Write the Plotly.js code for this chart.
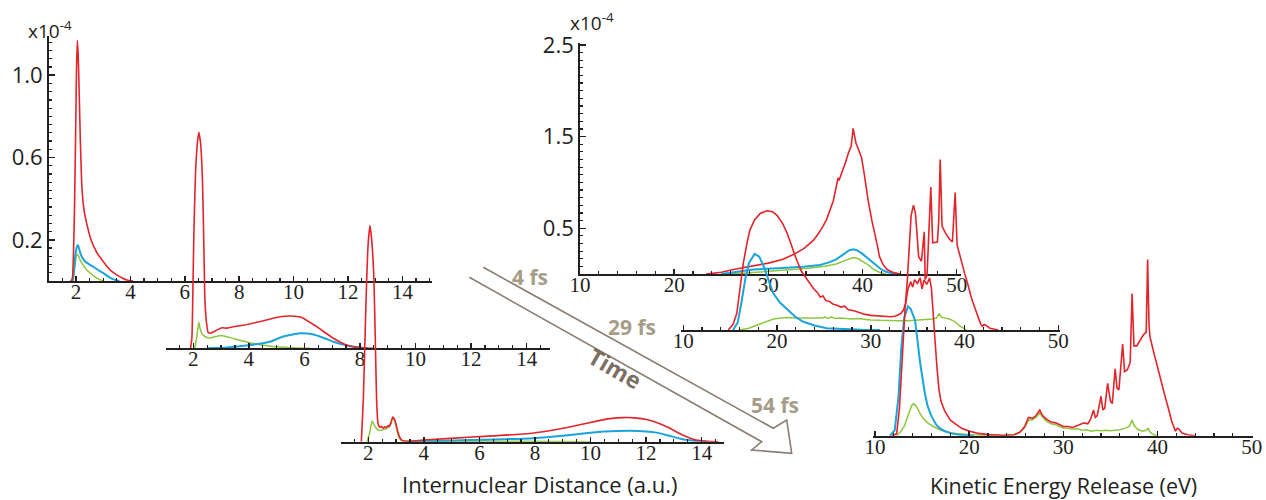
<!DOCTYPE html>
<html>
<head>
<meta charset="utf-8">
<script src="https://cdn.plot.ly/plotly-3.0.1.min.js"></script>
<style>html,body{margin:0;padding:0;background:#fff;}#chart{width:1266px;height:500px;}</style>
</head>
<body>
<div id="chart"></div>
<script>
// ---------------- DATA (values in units of 1e-4) ----------------
// Left group: internuclear distance (a.u.)
const l1Red = [[1.8,0],[1.86,0.01],[1.92,0.2],[1.95,0.39],[1.99,0.75],[2.02,1.04],[2.05,1.17],[2.08,1.1],[2.12,0.9],[2.16,0.68],[2.22,0.45],[2.3,0.34],[2.41,0.27],[2.55,0.2],[2.78,0.135],[3.0,0.095],[3.14,0.07],[3.3,0.048],[3.5,0.03],[3.7,0.015],[3.87,0.005],[4.1,0]];
const l1Blue = [[1.88,0],[1.93,0.06],[1.98,0.13],[2.03,0.165],[2.07,0.175],[2.11,0.16],[2.16,0.135],[2.25,0.11],[2.35,0.094],[2.5,0.08],[2.65,0.068],[2.85,0.05],[3.02,0.037],[3.2,0.02],[3.38,0.008],[3.6,0]];
const l1Green = [[1.9,0],[1.96,0.07],[2.03,0.13],[2.08,0.125],[2.16,0.1],[2.25,0.08],[2.4,0.053],[2.6,0.03],[2.78,0.013],[3.0,0]];

const l2Red = [[1.9,0],[1.95,0.05],[1.98,0.23],[2.02,0.55],[2.08,0.85],[2.15,1.0],[2.2,1.05],[2.26,1.0],[2.33,0.82],[2.38,0.5],[2.42,0.23],[2.48,0.12],[2.54,0.076],[2.65,0.075],[2.8,0.085],[3.03,0.1],[3.2,0.098],[3.44,0.105],[3.8,0.112],[4.4,0.13],[5.0,0.15],[5.48,0.157],[5.9,0.15],[6.44,0.105],[7.04,0.049],[7.52,0.016],[8.0,0.003],[8.5,0]];
const l2Blue = [[2.5,0],[3.2,0.004],[4.04,0.016],[4.76,0.032],[5.24,0.057],[5.84,0.073],[6.3,0.068],[6.7,0.05],[7.04,0.032],[7.4,0.018],[7.75,0.008],[8.3,0]];
const l2Green = [[2.05,0],[2.12,0.05],[2.17,0.1],[2.2,0.126],[2.24,0.1],[2.32,0.07],[2.45,0.055],[2.6,0.05],[2.8,0.057],[3.0,0.062],[3.3,0.053],[3.7,0.038],[4.2,0.022],[4.8,0.01],[5.5,0.003],[6.2,0]];

const l3Red = [[1.75,0],[1.82,0.2],[1.92,0.69],[1.99,0.95],[2.06,1.05],[2.13,0.97],[2.2,0.8],[2.26,0.45],[2.3,0.2],[2.35,0.09],[2.42,0.07],[2.48,0.075],[2.54,0.065],[2.6,0.072],[2.64,0.068],[2.72,0.078],[2.76,0.074],[2.82,0.095],[2.88,0.12],[2.96,0.104],[3.08,0.04],[3.2,0.008],[3.5,0.002],[3.98,0.008],[5.9,0.024],[7.82,0.04],[9.02,0.065],[9.7,0.085],[10.22,0.1],[10.7,0.112],[11.18,0.117],[11.6,0.116],[12.02,0.108],[12.45,0.09],[12.86,0.065],[13.2,0.04],[13.46,0.024],[13.8,0.008],[14.2,0.002],[14.6,0]];
const l3Blue = [[3.5,0],[4.5,0.004],[5.66,0.008],[6.8,0.012],[7.82,0.016],[8.8,0.026],[9.74,0.04],[10.5,0.049],[11.42,0.053],[12.0,0.05],[12.38,0.044],[12.8,0.03],[13.2,0.016],[13.5,0.008],[13.8,0.003],[14.2,0]];
const l3Green = [[1.95,0],[2.05,0.04],[2.1,0.08],[2.15,0.1],[2.2,0.085],[2.27,0.068],[2.35,0.058],[2.45,0.055],[2.55,0.06],[2.65,0.062],[2.75,0.075],[2.82,0.09],[2.88,0.115],[2.96,0.1],[3.04,0.05],[3.12,0.015],[3.25,0.004],[4,0.002],[6,0.002],[9,0.001],[10,0]];

// Right group: kinetic energy release (eV)
const r1Red = [[23.4,0],[25,0.02],[26.3,0.05],[28,0.08],[30,0.12],[31.5,0.16],[32.6,0.21],[33.8,0.28],[34.8,0.37],[35.3,0.44],[35.8,0.52],[36.2,0.6],[36.5,0.69],[36.9,0.8],[37.2,0.95],[37.4,1.05],[37.5,1.02],[37.8,1.1],[38.2,1.22],[38.5,1.32],[38.8,1.4],[39.0,1.59],[39.15,1.5],[39.3,1.43],[39.6,1.35],[39.9,1.27],[40.2,1.08],[40.6,0.8],[41.0,0.58],[41.3,0.45],[41.6,0.3],[41.8,0.19],[42.2,0.1],[42.6,0.05],[43.2,0.02],[44,0]];
const r1Blue = [[25,0],[26.5,0.02],[28.4,0.05],[31,0.065],[33.7,0.08],[35.5,0.1],[36.5,0.13],[37.2,0.16],[38,0.22],[38.6,0.26],[39,0.27],[39.4,0.26],[40,0.22],[40.5,0.18],[41,0.14],[41.5,0.09],[42,0.05],[42.5,0.025],[43.5,0]];
const r1Green = [[26,0],[28,0.015],[30,0.03],[32,0.04],[34,0.06],[36,0.085],[37.2,0.11],[38.2,0.15],[39,0.18],[39.5,0.17],[40,0.14],[40.6,0.1],[41.2,0.05],[41.8,0.02],[42.5,0]];

const r2Red = [[14.8,0],[15.3,0.06],[15.7,0.18],[16.0,0.4],[16.4,0.73],[16.8,0.95],[17.1,1.09],[17.6,1.2],[18.2,1.27],[18.9,1.3],[19.5,1.29],[20.0,1.25],[20.6,1.16],[21.1,1.05],[21.6,0.9],[22.1,0.76],[22.6,0.64],[23.2,0.55],[23.9,0.45],[24.3,0.41],[24.6,0.36],[24.9,0.37],[25.2,0.32],[25.6,0.31],[26.0,0.28],[26.4,0.27],[26.8,0.25],[27.2,0.26],[27.6,0.22],[28.2,0.21],[28.8,0.19],[29.4,0.17],[30,0.16],[30.6,0.155],[31.2,0.15],[32.1,0.145],[32.6,0.15],[33.0,0.17],[33.2,0.18],[33.5,0.22],[33.7,0.29],[33.9,0.55],[34.1,0.95],[34.3,1.25],[34.55,1.36],[34.75,1.28],[34.9,1.09],[35.1,0.8],[35.4,0.75],[35.7,1.07],[35.8,0.55],[36.0,0.6],[36.4,1.56],[36.6,0.95],[37.1,0.96],[37.25,1.2],[37.4,1.86],[37.6,1.13],[38.0,1.05],[38.4,0.99],[38.7,0.96],[39.0,1.5],[39.2,0.93],[39.6,0.76],[40,0.62],[40.4,0.48],[40.7,0.36],[41.1,0.24],[41.4,0.145],[41.7,0.07],[41.9,0.04],[42.1,0.06],[42.3,0.05],[42.7,0.02],[43.6,0]];
const r2Blue = [[15.3,0],[15.8,0.08],[16.2,0.3],[16.6,0.55],[17.0,0.73],[17.6,0.83],[18.1,0.8],[18.6,0.69],[19.1,0.54],[19.6,0.4],[20.3,0.3],[21.1,0.22],[22,0.14],[22.8,0.09],[24,0.05],[25.3,0.02],[27,0.008],[29,0.002],[31,0]];
const r2Green = [[16,0],[17,0.02],[17.9,0.055],[18.8,0.09],[19.6,0.12],[20.4,0.13],[21.1,0.135],[22,0.132],[23,0.13],[24,0.133],[24.8,0.13],[25.1,0.14],[25.4,0.125],[25.8,0.14],[26.2,0.125],[26.7,0.13],[27.5,0.125],[28,0.12],[28.6,0.125],[29.2,0.115],[30,0.11],[31,0.105],[32,0.1],[33,0.1],[34,0.1],[35,0.105],[36,0.11],[36.6,0.12],[37.0,0.13],[37.3,0.18],[37.5,0.14],[38,0.13],[38.4,0.12],[38.8,0.1],[39.0,0.09],[39.4,0.05],[39.8,0.02],[40.2,0]];

const r3Red = [[11.8,0],[12.3,0.02],[12.6,0.3],[12.8,0.7],[13.0,1.1],[13.2,1.4],[13.5,1.6],[13.8,1.68],[14.0,1.62],[14.2,1.7],[14.5,1.66],[14.8,1.72],[15.0,1.6],[15.2,1.7],[15.5,1.65],[15.8,1.72],[16.0,1.6],[16.2,1.35],[16.4,1.0],[16.6,0.72],[16.8,0.5],[17.0,0.38],[17.4,0.27],[18.0,0.17],[18.6,0.12],[19.2,0.08],[20,0.05],[21,0.025],[22,0.012],[23.5,0.005],[24.8,0.01],[25.4,0.04],[25.9,0.1],[26.3,0.2],[26.7,0.19],[27.1,0.22],[27.5,0.28],[27.8,0.22],[28.2,0.18],[28.7,0.15],[29.2,0.14],[29.6,0.12],[30.0,0.1],[30.5,0.1],[31.0,0.09],[31.5,0.11],[31.8,0.12],[32.2,0.14],[32.6,0.13],[32.9,0.18],[33.2,0.28],[33.4,0.2],[33.6,0.22],[34.0,0.43],[34.2,0.28],[34.4,0.3],[34.7,0.57],[35.0,0.38],[35.2,0.35],[35.5,0.73],[35.7,0.52],[35.9,0.5],[36.3,1.0],[36.5,0.7],[36.8,0.72],[37.1,0.8],[37.3,1.55],[37.5,0.98],[37.8,0.98],[38.2,1.05],[38.5,1.1],[38.8,1.13],[38.95,1.92],[39.1,1.2],[39.2,1.08],[39.5,0.95],[39.9,0.79],[40.3,0.6],[40.8,0.43],[41.2,0.28],[41.5,0.16],[41.9,0.05],[42.1,0.08],[42.3,0.07],[42.6,0.03],[43.2,0.01],[44,0]];
const r3Blue = [[11.6,0],[12.1,0.06],[12.5,0.43],[12.8,0.97],[13.1,1.28],[13.5,1.41],[13.8,1.38],[14.25,1.26],[14.5,1.05],[14.8,0.79],[15.3,0.46],[15.6,0.32],[16.0,0.21],[16.5,0.12],[16.9,0.08],[17.5,0.045],[18.3,0.02],[19.2,0.008],[20.5,0]];
const r3Green = [[12.3,0],[12.7,0.04],[13.1,0.1],[13.6,0.25],[13.9,0.33],[14.1,0.35],[14.4,0.32],[14.8,0.24],[15.1,0.19],[15.6,0.14],[16.2,0.1],[17.0,0.06],[17.9,0.035],[19,0.02],[20,0.01],[22,0.004],[24.5,0.003],[25.3,0.03],[25.9,0.09],[26.3,0.17],[26.7,0.17],[27.1,0.2],[27.5,0.25],[27.8,0.2],[28.2,0.16],[28.7,0.13],[29.2,0.12],[29.6,0.1],[30,0.085],[30.5,0.08],[31,0.07],[31.5,0.075],[32,0.06],[32.5,0.065],[33,0.05],[33.5,0.06],[34,0.055],[34.5,0.06],[35,0.055],[35.5,0.06],[36,0.065],[36.5,0.08],[37,0.1],[37.3,0.17],[37.5,0.11],[37.9,0.07],[38.4,0.05],[38.8,0.06],[39.0,0.08],[39.2,0.04],[39.6,0.01],[40,0]];

// Tick labels
const leftYTickVals = [0.2,0.6,1.0];
const leftYTickText = ['0.2','0.6','1.0'];
const rightYTickVals = [0.5,1.5,2.5];
const rightYTickText = ['0.5','1.5','2.5'];
const timeLabels = ['4 fs','29 fs','54 fs'];

// ---------------- LAYOUT HELPERS ----------------
const W = 1266, H = 500;
const fx = p => p / W;
const fy = p => 1 - p / H;
const RED = '#e2242b', BLUE = '#1aa3dc', GREEN = '#8dc63f', INK = '#231f20';
const SERIF = "'Liberation Serif', 'Times New Roman', serif";
const SANS = "'Open Sans', sans-serif";

// panel geometry (pixel placement of each small plot)
const panels = [
  {n:1, xr:[1,15.1],  x0:48.8,  sx:27.2,   base:281,   sy:205.8, top:36,  showY:true, left:true},
  {n:2, xr:[1,14.85], x0:165.5, sx:27.78,  base:348.3, sy:205.8, top:0,   showY:false, left:true},
  {n:3, xr:[1,14.8],  x0:340.5, sx:27.78,  base:441.7, sy:205.8, top:0,   showY:false, left:true},
  {n:4, xr:[10,50.5], x0:580,   sx:9.4175, base:274.1, sy:91.7,  top:43,  showY:true, left:false},
  {n:5, xr:[9.7,50.2],x0:680.5, sx:9.375,  base:330,   sy:91.7,  top:0,   showY:false, left:false},
  {n:6, xr:[9.8,50.1],x0:873.1, sx:9.4175, base:435.7, sy:91.7,  top:0,   showY:false, left:false}
];
const series = {
  1:[l1Green,l1Blue,l1Red], 2:[l2Green,l2Blue,l2Red], 3:[l3Green,l3Blue,l3Red],
  4:[r1Green,r1Blue,r1Red], 5:[r2Green,r2Blue,r2Red], 6:[r3Green,r3Blue,r3Red]
};
const colors = [GREEN, BLUE, RED];
const widths = [1.5, 2.0, 1.6];

const layout = {
  width: W, height: H,
  margin: {l:0, r:0, t:0, b:0},
  paper_bgcolor: '#ffffff',
  plot_bgcolor: 'rgba(0,0,0,0)',
  showlegend: false,
  annotations: [], shapes: []
};
const traces = [];

panels.forEach(p => {
  const sfx = p.n === 1 ? '' : String(p.n);
  const xName = 'xaxis' + sfx, yName = 'yaxis' + sfx;
  const xEnd = p.x0 + (p.xr[1] - p.xr[0]) * p.sx;
  const yMax = (p.base - p.top) / p.sy;
  layout[xName] = {
    domain: [fx(p.x0), fx(xEnd)],
    range: p.xr,
    anchor: 'y' + sfx,
    showgrid: false, zeroline: false,
    showline: true, linecolor: INK, linewidth: 1.8,
    ticks: 'inside', ticklen: 5, tickwidth: 1.5, tickcolor: INK,
    tickmode: 'linear',
    tick0: p.left ? 2 : 10, dtick: p.left ? 2 : 10,
    minor: {ticks: 'inside', ticklen: 3, tickwidth: 1.2, tickcolor: INK, dtick: p.left ? 0.5 : 2},
    tickfont: {family: SERIF, size: 21, color: INK},
    ticklabelstandoff: -9,
    fixedrange: true
  };
  layout[yName] = {
    domain: [fy(p.base), fy(p.top)],
    range: [0, yMax],
    anchor: 'x' + sfx,
    visible: p.showY,
    showgrid: false, zeroline: false,
    showline: true, linecolor: INK, linewidth: 1.8,
    ticks: 'inside', ticklen: 6, tickwidth: 1.5, tickcolor: INK,
    tickmode: 'array',
    tickvals: p.left ? leftYTickVals : rightYTickVals,
    ticktext: p.left ? leftYTickText : rightYTickText,
    minor: {ticks: 'inside', ticklen: 3, tickwidth: 1.2, tickcolor: INK, dtick: p.left ? 0.04 : 0.0833333, tick0: 0},
    tickfont: {family: SANS, size: 22, color: INK},
    fixedrange: true
  };
  series[p.n].forEach((s, i) => {
    traces.push({
      x: s.map(d => d[0]), y: s.map(d => d[1]),
      xaxis: 'x' + sfx, yaxis: 'y' + sfx,
      type: 'scatter', mode: 'lines',
      line: {color: colors[i], width: widths[i], shape: (p.left ? 'spline' : 'linear'), smoothing: 0.5},
      hoverinfo: 'skip', showlegend: false
    });
  });
});

// scale labels
const ann = layout.annotations;
ann.push({text: 'x10<sup>-4</sup>', xref:'paper', yref:'paper', x: fx(26), y: fy(30), xanchor:'left', yanchor:'middle', showarrow:false, font:{family:SANS, size:19, color:INK}});
ann.push({text: 'x10<sup>-4</sup>', xref:'paper', yref:'paper', x: fx(568), y: fy(22), xanchor:'left', yanchor:'middle', showarrow:false, font:{family:SANS, size:19, color:INK}});
// axis titles
ann.push({text: 'Internuclear Distance (a.u.)', xref:'paper', yref:'paper', x: fx(540), y: fy(484), xanchor:'center', yanchor:'middle', showarrow:false, font:{family:SANS, size:22, color:INK}});
ann.push({text: 'Kinetic Energy Release (eV)', xref:'paper', yref:'paper', x: fx(1063), y: fy(485), xanchor:'center', yanchor:'middle', showarrow:false, font:{family:SANS, size:21.5, color:INK}});
// time labels
const timePos = [[530,277],[632,327],[775,405]];
timeLabels.forEach((t, i) => {
  ann.push({text: t, xref:'paper', yref:'paper', x: fx(timePos[i][0]), y: fy(timePos[i][1]), xanchor:'center', yanchor:'middle', showarrow:false, font:{family:SANS, size:21, color:'#a69d88', weight:'bold'}});
});
ann.push({text: 'Time', xref:'paper', yref:'paper', x: fx(615), y: fy(368), xanchor:'center', yanchor:'middle', textangle: 30, showarrow:false, font:{family:SANS, size:23, color:'#7b6f64', weight:'bold'}});

// hollow time arrow (decoration)
const arrowPts = [[483.3,267.3],[773.3,428.3],[786.7,420],[791.7,453.3],[751.7,450],[761.7,441.7],[469.3,277.3]];
const path = arrowPts.map((q, i) => (i ? 'L' : 'M') + fx(q[0]).toFixed(5) + ',' + fy(q[1]).toFixed(5)).join(' ');
layout.shapes.push({type:'path', xref:'paper', yref:'paper', path: path, line:{color:'#8a7e73', width:1.6}, fillcolor:'rgba(0,0,0,0)'});

Plotly.newPlot('chart', traces, layout, {staticPlot: true, displayModeBar: false});
</script>
</body>
</html>
